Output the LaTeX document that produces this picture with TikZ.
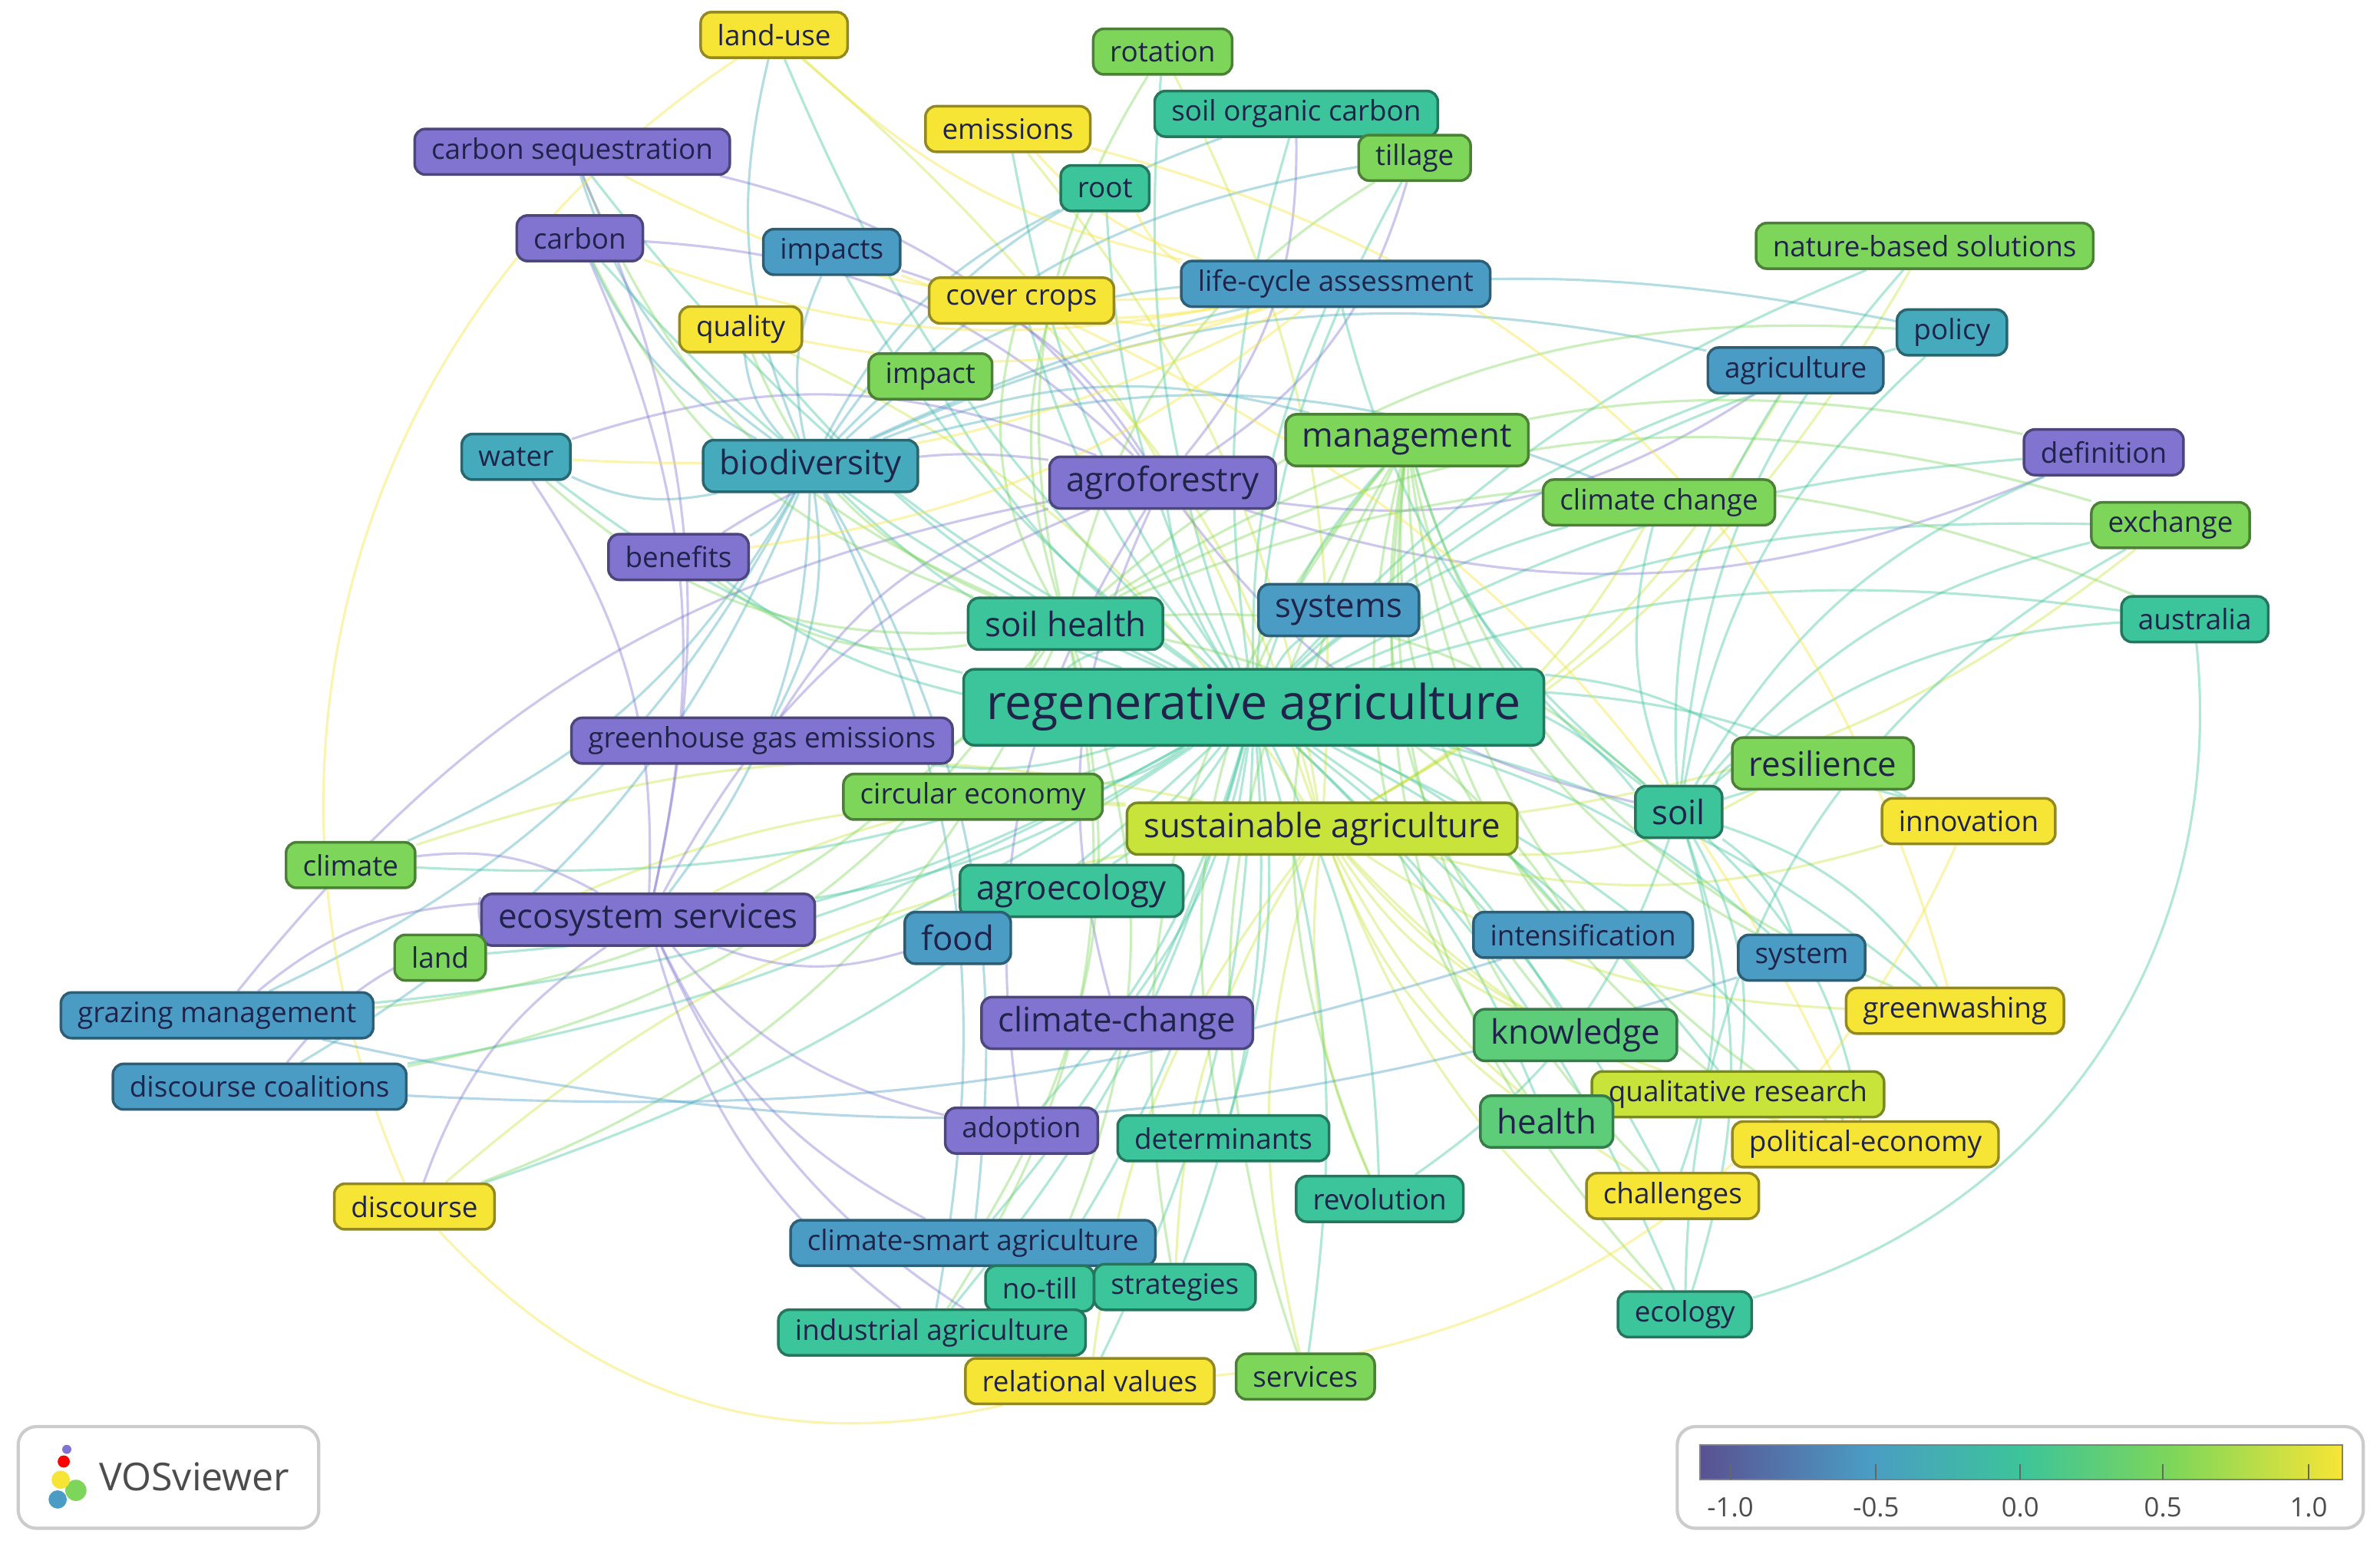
\documentclass[tikz,border=0pt]{standalone}
\usepackage{fontspec}
\setmainfont{Open Sans}
\usetikzlibrary{backgrounds}
\definecolor{cP}{HTML}{8074D0}\definecolor{cB}{HTML}{4A9CC4}\definecolor{cTB}{HTML}{45AABB}
\definecolor{cT}{HTML}{3CC49A}\definecolor{cG}{HTML}{7DD65A}\definecolor{cYG}{HTML}{C8E43A}
\definecolor{cY}{HTML}{F7E536}\definecolor{txt}{HTML}{20234A}
\tikzset{
 kw/.style={draw=#1!60!black,fill=#1,rounded corners=0.07cm,text=txt,font=\fontsize{5.3pt}{6pt}\selectfont,minimum height=0.30cm,inner xsep=0.11cm,inner ysep=0.04cm,line width=0.5pt},
 mid/.style={font=\fontsize{6.3pt}{7pt}\selectfont,minimum height=0.34cm},
 big/.style={font=\fontsize{9pt}{10pt}\selectfont,minimum height=0.5cm,inner xsep=0.15cm},
 ed/.style={draw=#1,opacity=0.4,line width=0.45pt},
}
\begin{document}
\begin{tikzpicture}[x=0.01cm,y=-0.01cm]
\node[kw=cY] (landuse) at (510,23) {land-use};
\node[kw=cG] (rotation) at (766,34) {rotation};
\node[kw=cY] (emissions) at (664,85) {emissions};
\node[kw=cT] (soc) at (854,75) {soil organic carbon};
\node[kw=cG] (tillage) at (932,104) {tillage};
\node[kw=cP] (cseq) at (377,100) {carbon sequestration};
\node[kw=cT] (root) at (728,124) {root};
\node[kw=cP] (carbon) at (382,157) {carbon};
\node[kw=cB] (impacts) at (548,166) {impacts};
\node[kw=cB] (lca) at (880,187) {life-cycle assessment};
\node[kw=cG] (nbs) at (1268,162) {nature-based solutions};
\node[kw=cY] (cover) at (673,198) {cover crops};
\node[kw=cY] (quality) at (488,217) {quality};
\node[kw=cTB] (policy) at (1286,219) {policy};
\node[kw=cB] (agri) at (1183,244) {agriculture};
\node[kw=cG] (impact) at (613,248) {impact};
\node[kw=cTB] (water) at (340,301) {water};
\node[kw=cTB,mid] (biod) at (534,307) {biodiversity};
\node[kw=cG,mid] (mgmt) at (927,290) {management};
\node[kw=cP] (defn) at (1386,298) {definition};
\node[kw=cP,mid] (agrof) at (766,318) {agroforestry};
\node[kw=cG] (cc) at (1093,331) {climate change};
\node[kw=cG] (exch) at (1430,346) {exchange};
\node[kw=cP] (benef) at (447,367) {benefits};
\node[kw=cB,mid] (systems) at (882,402) {systems};
\node[kw=cT,mid] (sh) at (702,411) {soil health};
\node[kw=cT] (aus) at (1446,408) {australia};
\node[kw=cT,big] (ra) at (826,466) {regenerative agriculture};
\node[kw=cP] (ghg) at (502,488) {greenhouse gas emissions};
\node[kw=cG,mid] (resil) at (1201,503) {resilience};
\node[kw=cG] (circ) at (641,525) {circular economy};
\node[kw=cT,mid] (soil) at (1106,535) {soil};
\node[kw=cY] (innov) at (1297,541) {innovation};
\node[kw=cYG,mid] (sa) at (871,546) {sustainable agriculture};
\node[kw=cG] (climate) at (231,570) {climate};
\node[kw=cT,mid] (agroe) at (706,587) {agroecology};
\node[kw=cP,mid] (es) at (427,606) {ecosystem services};
\node[kw=cB,mid] (food) at (631,618) {food};
\node[kw=cB] (intens) at (1043,616) {intensification};
\node[kw=cB] (system) at (1187,631) {system};
\node[kw=cG] (land) at (290,631) {land};
\node[kw=cB] (graz) at (143,669) {grazing management};
\node[kw=cY] (greenw) at (1288,666) {greenwashing};
\node[kw=cP,mid] (ccm) at (736,674) {climate-change};
\node[kw=cT!50!cG,mid] (know) at (1038,682) {knowledge};
\node[kw=cB] (dcoal) at (171,716) {discourse coalitions};
\node[kw=cYG] (qual) at (1145,721) {qualitative research};
\node[kw=cT!50!cG,mid] (health) at (1019,739) {health};
\node[kw=cP] (adopt) at (673,745) {adoption};
\node[kw=cT] (determ) at (806,750) {determinants};
\node[kw=cY] (polec) at (1229,754) {political-economy};
\node[kw=cY] (disc) at (273,795) {discourse};
\node[kw=cT] (rev) at (909,790) {revolution};
\node[kw=cY] (chal) at (1102,788) {challenges};
\node[kw=cB] (csa) at (641,819) {climate-smart agriculture};
\node[kw=cT] (notill) at (685,849) {no-till};
\node[kw=cT] (strat) at (774,848) {strategies};
\node[kw=cT] (ecol) at (1110,866) {ecology};
\node[kw=cT] (indag) at (614,878) {industrial agriculture};
\node[kw=cY] (relv) at (718,910) {relational values};
\node[kw=cG] (serv) at (860,907) {services};
\begin{scope}[on background layer]
\fill[white] (0,0) rectangle (1568,1017);
\foreach \n in {landuse,rotation,emissions,soc,tillage,cseq,root,carbon,impacts,lca,nbs,cover,quality,policy,agri,impact,water,biod,mgmt,defn,agrof,cc,exch,benef,systems,sh,aus,ghg,resil,circ,soil,innov,climate,agroe,es,food,intens,system,land,graz,greenw,ccm,know,dcoal,qual,health,adopt,determ,polec,disc,rev,chal,csa,notill,strat,ecol,indag,relv,serv}
  {\draw[ed=cT] (ra) to[bend left=12] (\n);}
\foreach \n in {landuse,rotation,emissions,cover,quality,nbs,innov,greenw,polec,chal,relv,serv,disc,exch,agri,cc,resil,qual,know,health,ecol,strat,rev,climate,land,es}
  {\draw[ed=cYG] (sa) to[bend right=15] (\n);}
\foreach \n in {cseq,carbon,impacts,water,benef,es,graz,dcoal,ghg,quality,landuse,soc,root,tillage,lca,agri,policy,mgmt,cc,csa,indag,climate}
  {\draw[ed=cTB] (biod) to[bend left=18] (\n);}
\foreach \n in {cseq,carbon,impacts,benef,ghg,es,defn,agri,soil,adopt,ccm,water,tillage,soc,graz}
  {\draw[ed=cP] (agrof) to[bend right=20] (\n);}
\foreach \n in {cseq,carbon,ghg,benef,water,quality,cover,rotation,tillage,root,defn,aus,exch,policy,soil,intens,csa,notill,indag,dcoal,graz,disc}
  {\draw[ed=cG] (sh) to[bend left=22] (\n);}
\foreach \n in {nbs,policy,agri,defn,exch,aus,innov,greenw,polec,qual,system,ecol,chal,resil,cc,lca,mgmt,rev}
  {\draw[ed=cT] (soil) to[bend left=18] (\n);}
\foreach \n in {climate,land,graz,dcoal,disc,water,carbon,cseq,food,csa,adopt,indag,relv}
  {\draw[ed=cP] (es) to[bend right=18] (\n);}
\foreach \n in {ecol,know,health,qual,chal,polec,greenw,system,intens,rev,determ,serv,strat}
  {\draw[ed=cG] (mgmt) to[bend right=25] (\n);}
\foreach \n in {cseq,carbon,impacts,quality,landuse,emissions,water,benef,root,cover}
  {\draw[ed=cY] (lca) to[bend left=15] (\n);}
\draw[ed=cY] (landuse) to[bend right=40] (disc);
\draw[ed=cY] (disc) to[bend right=30] (relv);
\draw[ed=cY] (relv) to[bend right=30] (innov);
\draw[ed=cY] (emissions) to[bend left=30] (greenw);
\draw[ed=cY] (cover) to[bend left=20] (polec);
\draw[ed=cB] (graz) to[bend right=15] (system);
\draw[ed=cB] (dcoal) to[bend right=10] (intens);
\draw[ed=cT] (ecol) to[bend left=30] (exch);
\draw[ed=cT] (ecol) to[bend right=40] (aus);
\end{scope}
% legend
\draw[black!20,line width=0.6pt,rounded corners=0.12cm] (1105,940) rectangle (1557,1007);
\shade[left color=cP!70!black,right color=cB] (1120,952) rectangle (1230,975);
\shade[left color=cB,right color=cT] (1230,952) rectangle (1331,975);
\shade[left color=cT,right color=cG] (1331,952) rectangle (1430,975);
\shade[left color=cG,right color=cY] (1430,952) rectangle (1543,975);
\draw[black!50,line width=0.3pt] (1120,952) rectangle (1543,975);
\foreach \x/\l in {1140/-1.0,1236/-0.5,1331/0.0,1425/0.5,1521/1.0}{
 \draw[black!60,line width=0.3pt] (\x,965) -- (\x,975);
 \node[font=\fontsize{5pt}{6pt}\selectfont,text=black!70] at (\x,993) {\l};}
\draw[black!20,line width=0.6pt,rounded corners=0.12cm] (12,940) rectangle (210,1007);
\fill[cB] (38,988) circle (6);\fill[cG] (50,982) circle (7);\fill[cY] (40,975) circle (6);\fill[red] (42,963) circle (4);\fill[cP] (44,955) circle (3);
\node[font=\fontsize{7.2pt}{8pt}\selectfont,text=black!70] at (128,973) {VOSviewer};
\end{tikzpicture}
\end{document}
